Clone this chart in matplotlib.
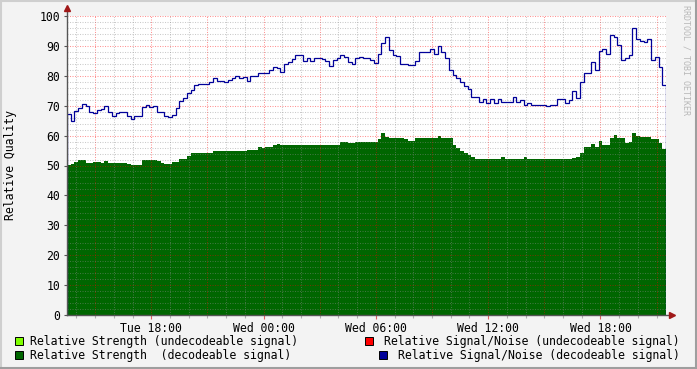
import numpy as np
import matplotlib
matplotlib.use("Agg")
import matplotlib.pyplot as plt
from matplotlib.patches import Rectangle
from matplotlib.lines import Line2D

# hours since Tue 13:30, one sample every 12 minutes
step_h = 0.2
n_samples = 160

# relative signal/noise (decodeable signal)
snr_decodeable = [
    67.2, 65.0, 68.3, 69.3, 70.7, 70.0, 68.0, 67.5, 68.5, 69.0,
    70.0, 68.0, 66.7, 67.6, 68.0, 68.0, 66.7, 65.6, 66.7, 66.7,
    69.4, 70.3, 69.4, 70.0, 68.0, 68.0, 66.7, 66.2, 67.0, 69.1,
    71.5, 72.7, 74.1, 75.2, 76.9, 77.1, 77.4, 77.4, 78.0, 79.4,
    78.2, 78.2, 78.0, 78.6, 79.1, 80.0, 79.1, 79.7, 78.2, 80.0,
    80.0, 80.8, 81.1, 81.1, 82.1, 83.0, 82.5, 81.3, 84.1, 84.7,
    85.6, 87.1, 87.1, 85.0, 86.1, 84.9, 86.0, 85.8, 85.5, 85.0,
    83.3, 85.2, 85.8, 87.1, 86.3, 84.7, 83.8, 85.8, 86.3, 86.1,
    86.1, 85.2, 84.4, 87.3, 91.0, 93.0, 88.6, 86.9, 86.6, 84.1,
    84.1, 83.6, 83.6, 85.0, 88.0, 88.0, 88.0, 88.8, 87.2, 89.9,
    88.0, 85.8, 81.9, 80.2, 79.1, 78.0, 76.6, 75.5, 73.0, 72.8,
    71.3, 72.2, 71.0, 72.4, 71.0, 72.2, 71.1, 71.1, 71.3, 73.0,
    71.3, 71.9, 70.2, 70.8, 70.4, 70.4, 70.2, 70.4, 69.9, 70.2,
    70.2, 72.1, 72.1, 71.0, 71.9, 74.9, 72.7, 77.8, 80.8, 81.1,
    84.7, 81.9, 88.2, 88.8, 87.3, 93.6, 93.0, 90.2, 85.2, 85.8,
    87.1, 96.1, 92.4, 91.8, 91.3, 92.4, 85.2, 86.3, 83.0, 77.0,
]

# relative strength (decodeable signal)
strength_decodeable = [
    50.2, 50.5, 51.3, 52.0, 52.0, 51.0, 51.0, 51.3, 51.3, 51.0,
    51.5, 51.0, 51.0, 50.8, 51.0, 50.8, 50.5, 50.2, 50.2, 50.2,
    52.0, 52.0, 52.0, 52.0, 51.5, 50.8, 50.6, 50.6, 51.3, 51.3,
    52.1, 52.1, 53.2, 54.1, 54.1, 54.1, 54.1, 54.1, 54.1, 54.7,
    54.7, 54.7, 54.7, 55.0, 55.0, 55.0, 55.0, 55.0, 55.2, 55.2,
    55.2, 56.1, 55.8, 56.1, 56.1, 56.9, 57.1, 56.9, 56.9, 56.9,
    56.9, 56.9, 57.0, 56.9, 56.9, 56.9, 56.9, 56.9, 56.9, 57.0,
    56.9, 56.9, 56.9, 58.0, 58.0, 57.5, 57.5, 58.0, 58.0, 58.0,
    58.0, 58.0, 58.0, 59.0, 60.8, 59.4, 59.1, 59.1, 59.1, 59.1,
    58.8, 58.3, 58.3, 59.1, 59.1, 59.1, 59.1, 59.1, 59.1, 59.9,
    59.1, 59.1, 59.1, 56.9, 55.8, 54.7, 54.1, 53.6, 52.8, 52.1,
    52.1, 52.1, 52.1, 52.1, 52.1, 52.1, 53.0, 52.1, 52.1, 52.1,
    52.1, 52.1, 53.0, 52.1, 52.1, 52.1, 52.1, 52.1, 52.1, 52.1,
    52.1, 52.1, 52.1, 52.1, 52.1, 52.5, 53.0, 54.1, 56.1, 56.1,
    57.1, 56.1, 58.2, 56.9, 56.9, 59.1, 60.2, 59.1, 59.1, 57.4,
    58.0, 60.8, 59.7, 59.4, 59.4, 59.4, 58.8, 58.8, 57.4, 55.5,
]

tick_hours = [4.5, 10.5, 16.5, 22.5, 28.5]
tick_labels = ["Tue 18:00", "Wed 00:00", "Wed 06:00", "Wed 12:00", "Wed 18:00"]

legend_left = ["Relative Strength (undecodeable signal)", "Relative Strength  (decodeable signal)"]
legend_right = ["Relative Signal/Noise (undecodeable signal)", "Relative Signal/Noise (decodeable signal)"]
colors_left = ["#7FFF00", "#006600"]
colors_right = ["#FF0000", "#000099"]

plt.rcParams["font.family"] = "DejaVu Sans Mono"
fs = 8.3

W, H = 697, 369
fig = plt.figure(figsize=(W / 100, H / 100), dpi=100, facecolor="#F3F3F3")
ax = fig.add_axes([67 / W, 1 - 315 / H, 599 / W, 299 / H])
ax.set_facecolor("white")

edges = np.arange(n_samples + 1) * step_h
ax.stairs(strength_decodeable, edges, fill=True, baseline=0, color="#006600", zorder=1)
ax.stairs(snr_decodeable, edges, color="#000099", linewidth=0.9, zorder=3)

ax.set_xlim(0, n_samples * step_h)
ax.set_ylim(0, 100)

# grid lines drawn over the data, rrdtool style
dots = (0, (1, 1.4))
for h in np.arange(0.5, 32, 1.0):
    major = abs((h - 1.5) % 3) < 1e-6
    ax.axvline(h, color="#FF0000" if major else "#8C8C8C", alpha=0.42 if major else 0.45,
               lw=0.75, ls=dots, zorder=2)
for v in range(2, 101, 2):
    major = v % 10 == 0
    ax.axhline(v, color="#FF0000" if major else "#8C8C8C", alpha=0.42 if major else 0.45,
               lw=0.75, ls=dots, zorder=2)

for s in ax.spines.values():
    s.set_visible(False)

# axes with arrows
ax.add_line(Line2D([0, 0], [0, 1 + 8 / 299], transform=ax.transAxes, color="#555555",
                   lw=1.0, clip_on=False, zorder=4))
ax.add_line(Line2D([0, 1 + 5 / 599], [0, 0], transform=ax.transAxes, color="#555555",
                   lw=1.0, clip_on=False, zorder=4))
ax.plot([0], [1 + 8 / 299], marker="^", color="#A01818", ms=4.5, transform=ax.transAxes,
        clip_on=False, zorder=5)
ax.plot([1 + 6 / 599], [0], marker=">", color="#A01818", ms=4.5, transform=ax.transAxes,
        clip_on=False, zorder=5)

ax.set_xticks(tick_hours)
ax.set_xticklabels(tick_labels, fontsize=fs)
ax.set_xticks(np.arange(0.5, 32, 1.0), minor=True)
ax.tick_params(axis="x", which="major", length=3, width=0.8, color="#E06060", pad=2)
ax.tick_params(axis="x", which="minor", length=2, width=0.8, color="#B0B0B0")
ax.set_yticks(range(0, 101, 10))
ax.set_yticklabels([str(v) for v in range(0, 101, 10)], fontsize=fs)
ax.tick_params(axis="y", which="major", length=2.5, width=0.8, color="#555555", pad=2.5)

fig.text(11 / W, 1 - 165 / H, "Relative Quality", rotation=90, fontsize=fs,
         ha="center", va="center")
fig.text(686 / W, 1 - 60 / H, "RRDTOOL / TOBI OETIKER", rotation=270, fontsize=6.0,
         ha="center", va="center", color="#B8B8B8")

# legend
row_y = [341, 355]
for i in range(2):
    yc = row_y[i]
    fig.add_artist(Rectangle((15 / W, 1 - (yc + 4) / H), 8 / W, 8 / H,
                             facecolor=colors_left[i], edgecolor="black", lw=0.7))
    fig.text(30 / W, 1 - yc / H, legend_left[i], fontsize=fs, ha="left", va="center")
    rx = 365 if i == 0 else 379
    fig.add_artist(Rectangle((rx / W, 1 - (yc + 4) / H), 8 / W, 8 / H,
                             facecolor=colors_right[i], edgecolor="black", lw=0.7))
    fig.text(680 / W, 1 - yc / H, legend_right[i], fontsize=fs, ha="right", va="center")

# canvas border
fig.add_artist(Line2D([0, 1], [1 - 1 / H, 1 - 1 / H], color="#CFCFCF", lw=1.5))
fig.add_artist(Line2D([1 / W, 1 / W], [0, 1], color="#CFCFCF", lw=1.5))
fig.add_artist(Line2D([0, 1], [1 / H, 1 / H], color="#9E9E9E", lw=1.5))
fig.add_artist(Line2D([1 - 1 / W, 1 - 1 / W], [0, 1], color="#9E9E9E", lw=1.5))

fig.savefig("out.png", dpi=100, facecolor=fig.get_facecolor())
